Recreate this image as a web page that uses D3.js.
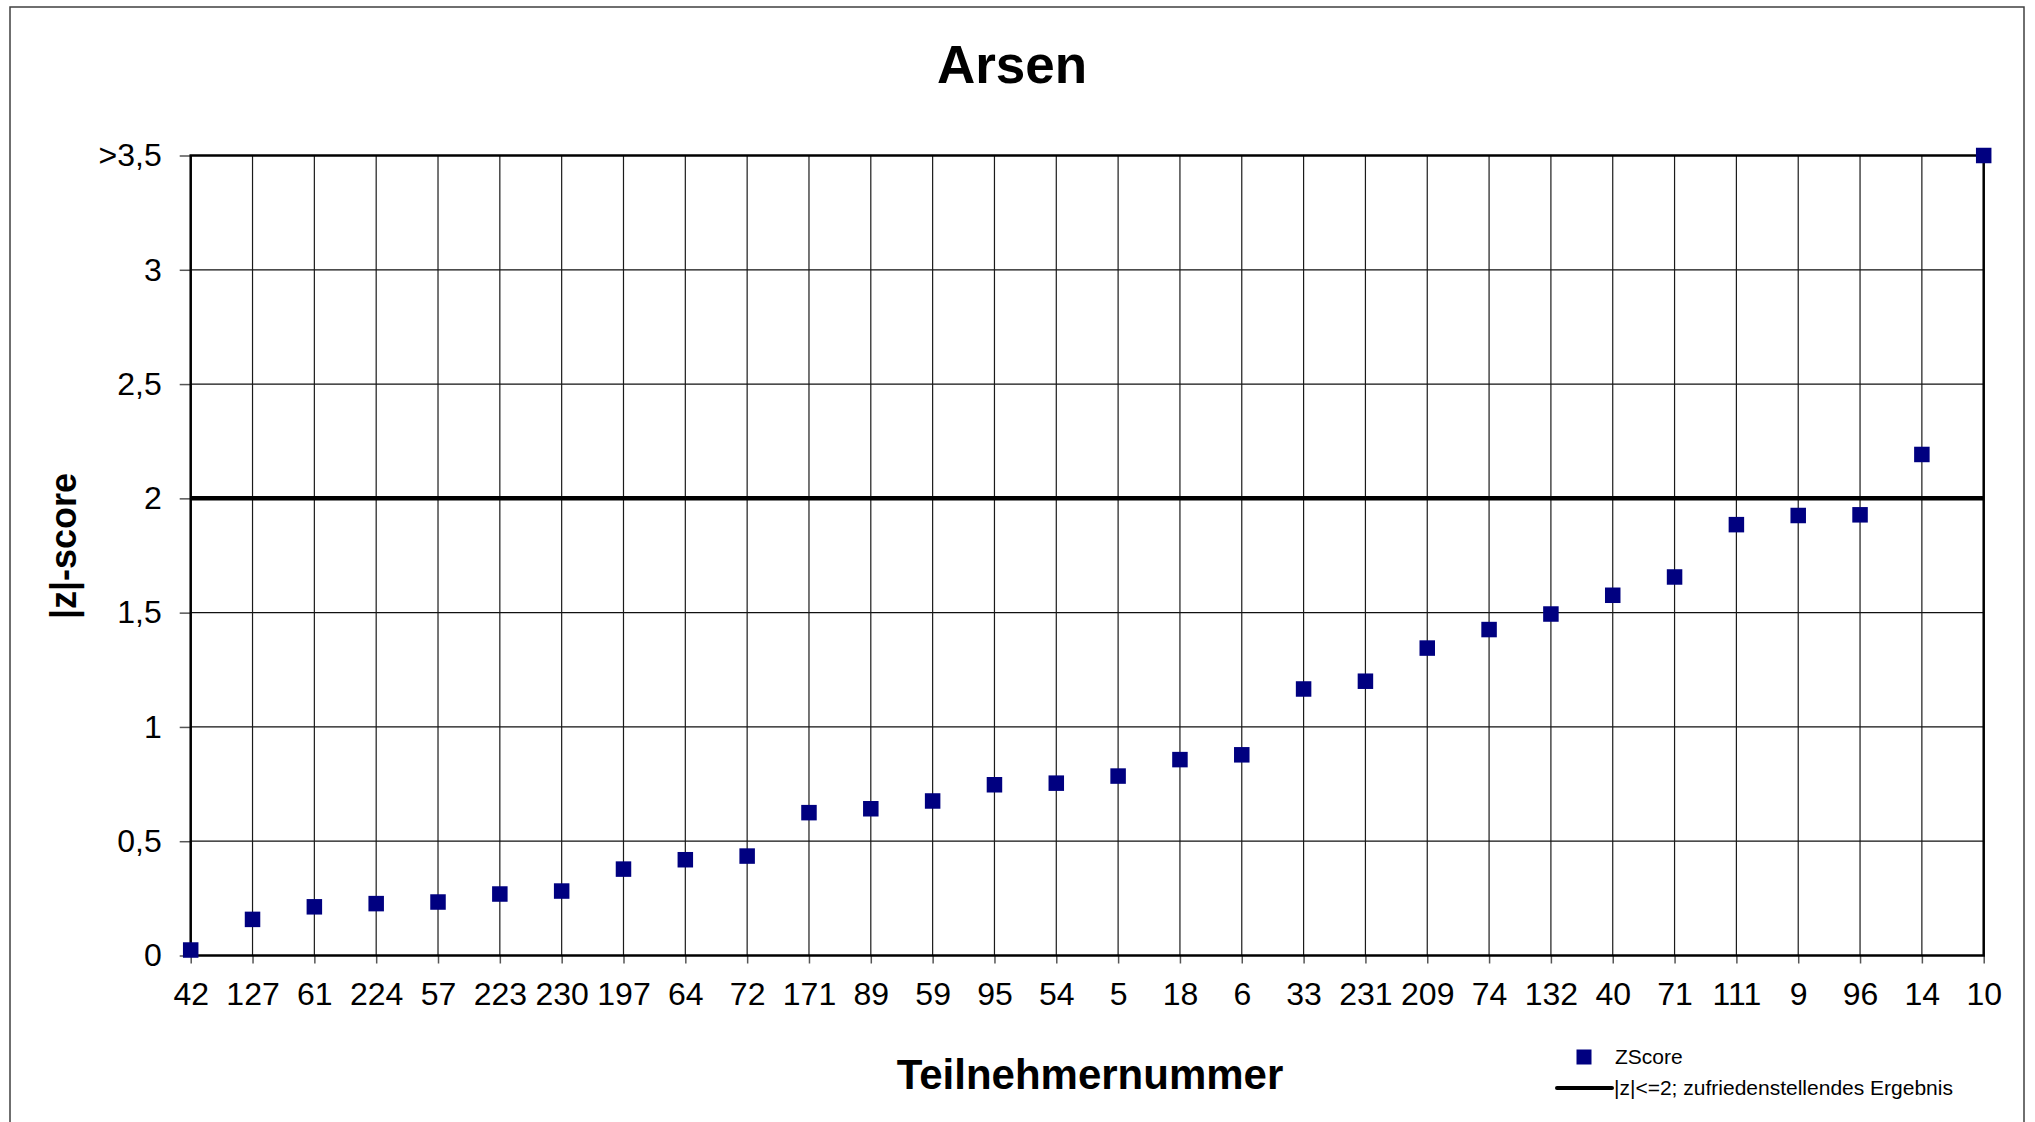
<!DOCTYPE html>
<html><head><meta charset="utf-8">
<script src="https://cdn.jsdelivr.net/npm/d3@7"></script>
<style>
html,body{margin:0;padding:0;background:#fff;}
svg{display:block;font-family:"Liberation Sans",Arial,sans-serif;}
</style></head>
<body>
<script>
const categories = ["42","127","61","224","57","223","230","197","64","72","171","89","59","95","54","5","18","6","33","231","209","74","132","40","71","111","9","96","14","10"];
const zscores = [0.024,0.158,0.213,0.227,0.234,0.269,0.282,0.378,0.419,0.435,0.625,0.642,0.676,0.747,0.754,0.785,0.857,0.878,1.166,1.2,1.345,1.426,1.494,1.576,1.656,1.885,1.925,1.928,2.192,3.5];
const yTickValues = [0,0.5,1,1.5,2,2.5,3,3.5];
const yTickLabels = ["0","0,5","1","1,5","2","2,5","3",">3,5"];
const threshold = 2;
const title = "Arsen";
const xTitle = "Teilnehmernummer";
const yTitle = "|z|-score";
const legendLabels = ["ZScore","|z|<=2; zufriedenstellendes Ergebnis"];

const W = 2035, H = 1122;
const L = 190.7, R = 1983.7, T = 155.5, B = 955.5;

const svg = d3.select("body").append("svg").attr("width", W).attr("height", H);

// outer frame
svg.append("rect").attr("x",10).attr("y",7).attr("width",2014).attr("height",1130)
  .attr("fill","none").attr("stroke","#404040").attr("stroke-width",1.5);

const x = d3.scalePoint().domain(categories).range([L, R]).padding(0);
const y = d3.scaleLinear().domain([0, 3.5]).range([B, T]);

// grid
const g = svg.append("g");
g.selectAll(".hg").data(yTickValues).join("line")
  .attr("x1", L).attr("x2", R).attr("y1", d=>y(d)).attr("y2", d=>y(d))
  .attr("stroke","#111").attr("stroke-width",1.2);
g.selectAll(".vg").data(categories).join("line")
  .attr("x1", d=>x(d)).attr("x2", d=>x(d)).attr("y1", T).attr("y2", B)
  .attr("stroke","#1a1a1a").attr("stroke-width",1.2);

// axes
const yAxis = d3.axisLeft(y).tickValues(yTickValues).tickFormat((d,i)=>yTickLabels[i]).tickSize(11).tickPadding(18);
const ya = svg.append("g").attr("transform",`translate(${L},0)`).call(yAxis);
ya.select(".domain").remove();
ya.selectAll(".tick line").attr("stroke","#555").attr("stroke-width",1.5);
ya.selectAll(".tick text").attr("font-size",32).attr("fill","#000").attr("font-family","'Liberation Sans',Arial,sans-serif");

const xAxis = d3.axisBottom(x).tickSize(8).tickPadding(19);
const xa = svg.append("g").attr("transform",`translate(0,${B})`).call(xAxis);
xa.select(".domain").remove();
xa.selectAll(".tick line").attr("stroke","#555").attr("stroke-width",1.5);
xa.selectAll(".tick text").attr("font-size",32).attr("fill","#000").attr("font-family","'Liberation Sans',Arial,sans-serif");

// plot border
svg.append("rect").attr("x",L).attr("y",T).attr("width",R-L).attr("height",B-T)
  .attr("fill","none").attr("stroke","#000").attr("stroke-width",2.5);

// threshold line
svg.append("line").attr("x1",L).attr("x2",R).attr("y1",y(threshold)).attr("y2",y(threshold))
  .attr("stroke","#000").attr("stroke-width",4.5);

// markers
const ms = 15.5;
svg.append("g").selectAll("rect").data(categories).join("rect")
  .attr("x", d=>x(d)-ms/2).attr("y",(d,i)=>y(zscores[i])-ms/2)
  .attr("width",ms).attr("height",ms).attr("fill","#000080");

// titles
svg.append("text").attr("x",1012).attr("y",83).attr("text-anchor","middle")
  .attr("font-size",53).attr("font-weight","bold").text(title);
svg.append("text").attr("x",1090).attr("y",1089).attr("text-anchor","middle")
  .attr("font-size",42).attr("font-weight","bold").text(xTitle);
svg.append("text").attr("transform","translate(76,546) rotate(-90)").attr("text-anchor","middle")
  .attr("font-size",36).attr("font-weight","bold").text(yTitle);

// legend
svg.append("rect").attr("x",1584-7.5).attr("y",1057-7.5).attr("width",15).attr("height",15).attr("fill","#000080");
svg.append("text").attr("x",1615).attr("y",1064).attr("font-size",21).text(legendLabels[0]);
svg.append("line").attr("x1",1557).attr("x2",1612).attr("y1",1088).attr("y2",1088).attr("stroke","#000").attr("stroke-width",4).attr("stroke-linecap","round");
svg.append("text").attr("x",1614).attr("y",1095).attr("font-size",21).text(legendLabels[1]);
</script>
</body></html>
